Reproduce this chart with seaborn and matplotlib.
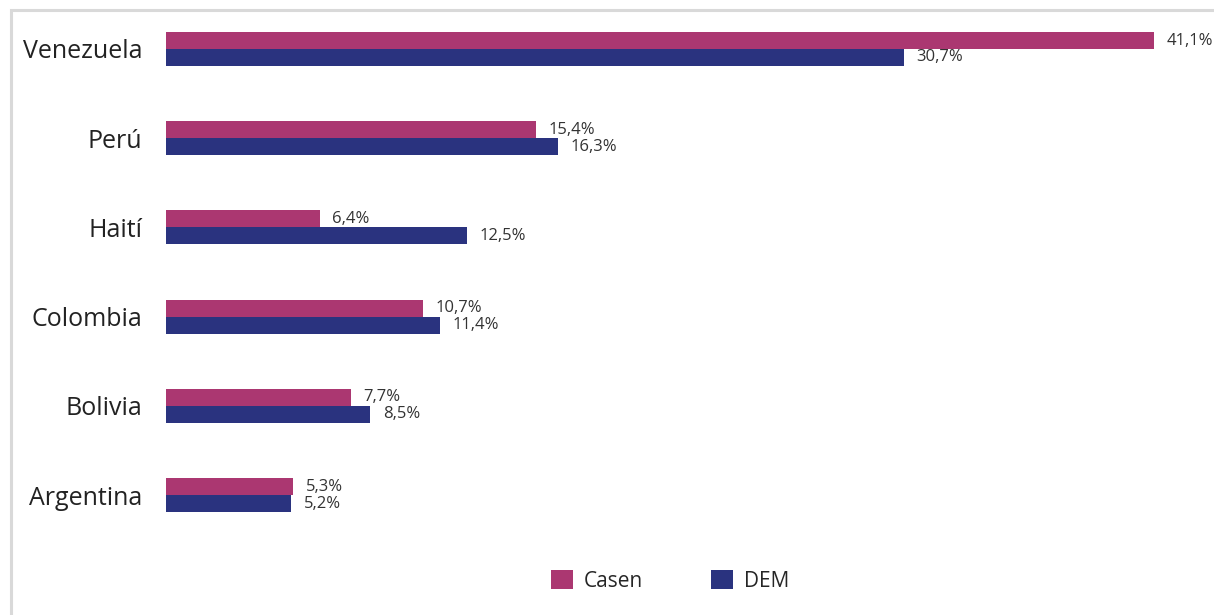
import matplotlib
matplotlib.use("Agg")
import matplotlib.pyplot as plt
from matplotlib.patches import Rectangle, Patch
import seaborn as sns
import pandas as pd

countries = ["Venezuela", "Perú", "Haití", "Colombia", "Bolivia", "Argentina"]
casen = [41.1, 15.4, 6.4, 10.7, 7.7, 5.3]
dem = [30.7, 16.3, 12.5, 11.4, 8.5, 5.2]
series = ["Casen", "DEM"]
colors = {"Casen": "#AB3771", "DEM": "#2A337F"}

df = pd.DataFrame({
    "country": countries * 2,
    "value": casen + dem,
    "source": [series[0]] * len(countries) + [series[1]] * len(countries),
})

sns.set_theme(style="white")
plt.rcParams["font.family"] = ["Open Sans", "DejaVu Sans"]

W, H = 1214, 615
fig = plt.figure(figsize=(W / 100, H / 100), dpi=100)

# outer light frame
fig.patches.append(Rectangle((11 / W, -0.1), 1.2, 1 - 10 / H + 0.1,
                             transform=fig.transFigure, fill=False,
                             edgecolor="#D9D9D9", linewidth=2.2, zorder=0))

ax = fig.add_axes([166 / W, 1 - 530 / H, 1034 / W, 510 / H])
sns.barplot(data=df, y="country", x="value", hue="source", order=countries,
            hue_order=series, palette=colors, width=0.38, dodge=True,
            orient="h", ax=ax, legend=False, saturation=1, linewidth=0)

for container in ax.containers:
    labels = [f"{v:.1f}".replace(".", ",") + "%" for v in container.datavalues]
    ax.bar_label(container, labels=labels, padding=9, fontsize=12,
                 color="#333333")

ax.set_xlim(0, 43.0)
ax.set_ylim(5.392, -0.325)
ax.set_xlabel("")
ax.set_ylabel("")
ax.set_xticks([])
for s in ax.spines.values():
    s.set_visible(False)
ax.tick_params(axis="y", length=0, pad=17, labelsize=18, labelcolor="#222222")
ax.patch.set_alpha(0)

handles = [Patch(facecolor=colors[s], edgecolor="none") for s in series]
fig.legend(handles, series, loc="center", bbox_to_anchor=(670 / W, 1 - 581 / H),
           ncol=2, frameon=False, fontsize=15, handlelength=1.05,
           handleheight=1.05, handletextpad=0.5, columnspacing=3.3)

fig.savefig("out.png", dpi=100)
